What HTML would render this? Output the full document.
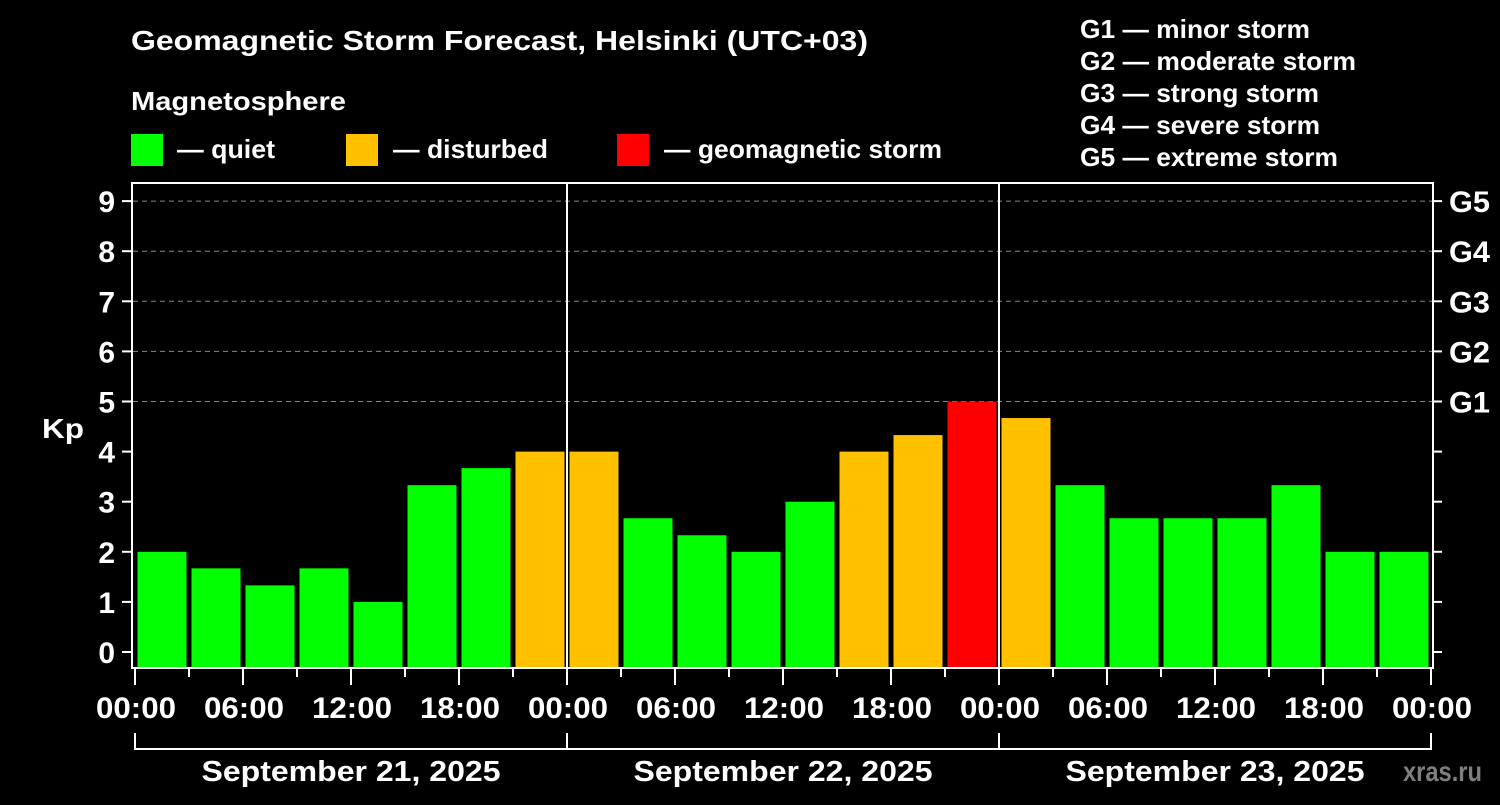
<!DOCTYPE html>
<html><head><meta charset="utf-8"><style>
body{margin:0;background:#000;}
svg text{font-family:"Liberation Sans",sans-serif;font-weight:bold;fill:#fff;}
</style></head><body>
<svg width="1500" height="800" viewBox="0 0 1500 800">
<rect width="1500" height="800" fill="#000"/>
<text x="131" y="50" font-size="28" textLength="737" lengthAdjust="spacingAndGlyphs">Geomagnetic Storm Forecast, Helsinki (UTC+03)</text>
<text x="131" y="110" font-size="26" textLength="215" lengthAdjust="spacingAndGlyphs">Magnetosphere</text>
<g>
<rect x="131" y="134" width="32" height="32" fill="#00ff00"/>
<text x="177" y="158" font-size="26" textLength="98" lengthAdjust="spacingAndGlyphs">— quiet</text>
<rect x="346" y="134" width="32" height="32" fill="#ffc000"/>
<text x="393" y="158" font-size="26" textLength="155" lengthAdjust="spacingAndGlyphs">— disturbed</text>
<rect x="617" y="134" width="32" height="32" fill="#ff0000"/>
<text x="664" y="158" font-size="26" textLength="278" lengthAdjust="spacingAndGlyphs">— geomagnetic storm</text>
</g>
<g font-size="26">
<text x="1080" y="38" textLength="230" lengthAdjust="spacingAndGlyphs">G1 — minor storm</text>
<text x="1080" y="70" textLength="276" lengthAdjust="spacingAndGlyphs">G2 — moderate storm</text>
<text x="1080" y="102" textLength="239" lengthAdjust="spacingAndGlyphs">G3 — strong storm</text>
<text x="1080" y="134" textLength="240" lengthAdjust="spacingAndGlyphs">G4 — severe storm</text>
<text x="1080" y="166" textLength="258" lengthAdjust="spacingAndGlyphs">G5 — extreme storm</text>
</g>
<text x="42" y="438" font-size="28" textLength="42" lengthAdjust="spacingAndGlyphs">Kp</text>
<text x="1403" y="781" font-size="28" textLength="79" lengthAdjust="spacingAndGlyphs" style="fill:#7f7f7f">xras.ru</text>
<g id="plot"></g>
</svg>
<script>
const kpValues=[2,1.67,1.33,1.67,1,3.33,3.67,4, 4,2.67,2.33,2,3,4,4.33,5, 4.67,3.33,2.67,2.67,2.67,3.33,2,2];
const yTicks=[0,1,2,3,4,5,6,7,8,9];
const gLabels=["G1","G2","G3","G4","G5"];
const xTickLabels=["00:00","06:00","12:00","18:00","00:00","06:00","12:00","18:00","00:00","06:00","12:00","18:00","00:00"];
const dayLabels=["September 21, 2025","September 22, 2025","September 23, 2025"];

const NS="http://www.w3.org/2000/svg";
const g=document.getElementById('plot');
const x0=135,slot=54;
function xs(i){return x0+i*slot;}
function ys(v){return 652-v*50.1;}
function mk(t,a,txt){const e=document.createElementNS(NS,t);for(const k in a)e.setAttribute(k,a[k]);if(txt!==undefined)e.textContent=txt;g.appendChild(e);return e;}
yTicks.forEach(v=>{
  if(v>=5){const l=mk('line',{x1:133,x2:1433,y1:ys(v),y2:ys(v),stroke:'#888','stroke-dasharray':'5,4','stroke-width':1});
  
  }
  const t=mk('line',{x1:122,x2:131,y1:ys(v),y2:ys(v),stroke:'#fff','stroke-width':2});
  
  
  const r=mk('line',{x1:1434,x2:1442,y1:ys(v),y2:ys(v),stroke:'#fff','stroke-width':2});
  
  
  const lb=mk('text',{x:115,y:ys(v)+11,'font-size':30,'text-anchor':'end'},String(v));
  
  
});
gLabels.forEach((s,i)=>{
  const t=mk('text',{x:1449,y:ys(5+i)+11,'font-size':30,textLength:41,lengthAdjust:'spacingAndGlyphs'},s);
  
  
});
kpValues.forEach((v,i)=>{
  const c=v>=5?'#ff0000':(v>=4?'#ffc000':'#00ff00');
  const top=ys(v);
  const b=mk('rect',{x:xs(i)+2.5,y:top,width:49,height:668-top,fill:c});
  
  
});
[8,16].forEach(i=>{
  const l=mk('line',{x1:xs(i),x2:xs(i),y1:183,y2:668,stroke:'#fff','stroke-width':2});
  
  
});
const f=mk('rect',{x:132,y:183,width:1301,height:485,fill:'none',stroke:'#fff','stroke-width':2});


for(let i=0;i<=24;i++){
  const t=mk('line',{x1:xs(i),x2:xs(i),y1:668,y2:i%2==0?685:677,stroke:'#fff','stroke-width':2});
  
  
}
xTickLabels.forEach((s,i)=>{
  const t=mk('text',{x:xs(i*2)+1,y:718,'font-size':30,'text-anchor':'middle',textLength:80,lengthAdjust:'spacingAndGlyphs'},s);
  
  
});
dayLabels.forEach((s,d)=>{
  const a=xs(d*8),b=xs(d*8+8);
  const p=mk('path',{d:`M${a},733V749H${b}V733`,fill:'none',stroke:'#fff','stroke-width':2});
  
  
  const t=mk('text',{x:(a+b)/2,y:781,'font-size':29,'text-anchor':'middle',textLength:299,lengthAdjust:'spacingAndGlyphs'},s);
  
  
});
</script>
</body></html>
